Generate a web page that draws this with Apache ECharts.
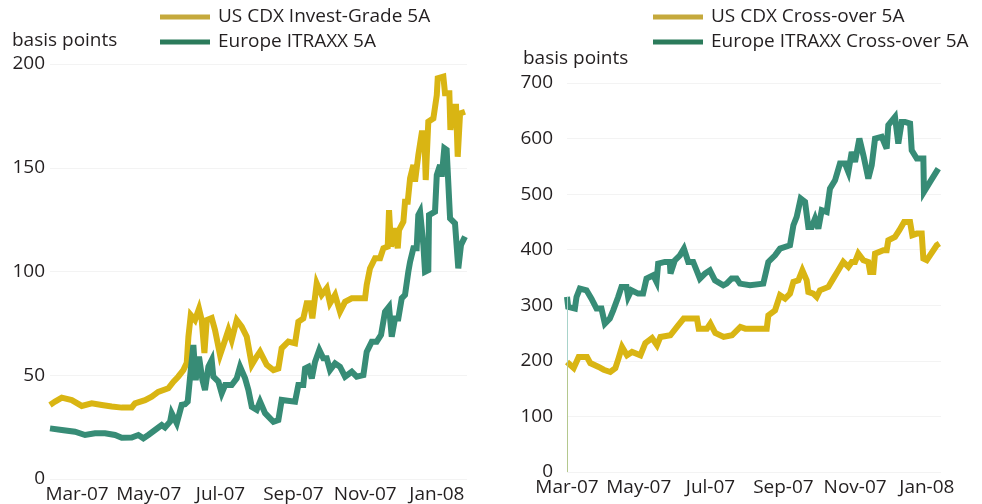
<!DOCTYPE html>
<html><head><meta charset="utf-8">
<script src="https://cdn.jsdelivr.net/npm/echarts@6/dist/echarts.min.js"></script>
<style>html,body{margin:0;padding:0;background:#fff}#c{width:982px;height:504px}</style>
</head><body><div id="c"></div><script>
// x positions are days since 1 Mar 2007
const tickDays = [0, 61, 122, 184, 245, 306];
const tickLabels = ['Mar-07', 'May-07', 'Jul-07', 'Sep-07', 'Nov-07', 'Jan-08'];

const igUsDays = [-23,-18.7,-13,-4.5,4,12.5,21,29.5,38,46.5,49.3,57.8,63.5,69,77.6,82,86,90.4,93.3,94.7,96.7,100.3,103.7,106,108.3,110.3,114.5,117.3,121.6,125.9,128.7,131.5,135.8,140,144.3,148.6,152.8,155.6,161.3,167,171.2,174,179.7,185.4,188.2,192.4,195.3,198.1,200.1,203.8,208,212.3,215.1,219.4,223.6,227.9,233.6,244.9,246.3,249.1,253.4,257.7,260.5,264.2,265.3,267,269.8,272.7,273.8,277.5,278.9,281.2,283.2,286,287.4,290.2,293.1,295.3,296.5,298.2,298.7,303,305.9,306.7,311.5,312.9,316.6,317.5,320,322.3,323.7,325.7,329.9];
const igUsValues = [35.7,37.3,39.2,38,35.2,36.5,35.7,34.9,34.4,34.5,36.5,38,39.7,42,43.7,46.9,49.3,52.5,56,68.6,79,76.6,82,76.6,60.7,76.6,77.6,71.8,59.8,67,71.8,67,76.6,73.4,68.6,55,59,61.4,55,52.5,53.3,63,66.2,65.4,75.8,77.4,84.7,84.7,77.4,94.3,88.7,91.9,84.7,88.7,80.6,85.4,87.1,87.1,93.5,101.5,106.4,106.4,111.2,112,129.6,112,120.8,111.2,120,124,133.6,133.6,144.9,151.3,143.3,156.1,166.6,166.6,144.1,144.1,172.2,173.8,185,193.1,193.9,185.9,185.9,168.2,179.4,179.4,155.3,176.2,177];

const igEuDays = [-23,-13,-1.7,6.8,15.3,23.8,32.3,38,46.5,52.1,56.4,60.6,66.3,72,74.8,79.1,80.5,84.8,89,91.8,94.1,96.7,98.9,100.9,103.7,106.6,108.8,111.7,114.5,115.9,120.2,123,125.9,131.5,135.8,138.6,142.9,145.7,148.6,152.8,155.6,159.9,167,171.2,174,185.4,188.2,192.4,193.9,196.7,199.6,202.4,206,209.4,212.3,215.1,219.4,223.6,227.9,233.6,237.8,243.5,246.3,250.6,254.8,258.5,261.9,265.3,267.6,270.4,273.2,276.1,278.9,281.7,283.2,286,288.8,290.2,291.7,294.5,295.9,298.7,299.3,304.4,305.9,308.7,310.1,312.3,314.3,317.2,321.4,324.2,326.5,329.9];
const igEuValues = [24.4,23.6,22.8,21.2,22,22,21.2,19.9,20,21.2,19.6,21.2,23.6,26,24.8,27.6,31.7,26.8,35.7,36,37.3,52.5,64.6,47.7,58.9,47.7,42.9,54.1,57.3,49.3,46.9,41.3,45.3,45.3,48.5,54.1,48.5,42.9,34.8,33.3,37.3,31.7,27.6,28.4,38.1,37.3,45.3,45.3,53.3,54.1,48.5,56.5,62.2,58.2,58.2,52.5,55.7,54.1,49.3,51.7,49.3,50.1,61.3,66.2,66.2,69.4,80.6,83,68.6,77.4,77.4,87.1,88.7,99.9,104.7,111.2,111.2,127.2,128.8,112.8,99.9,100.7,127.2,128.8,146.5,151.3,145.7,159.4,158.6,125.6,123.2,101.5,112.8,116.8];

const xoUsDays = [0,5.7,9.9,17,19.8,26.9,31.2,36.8,41.1,43.9,46.8,51,55.3,62.4,66.6,72.3,76.5,79.4,87.9,93.5,99.2,110.5,112,119,121.9,126.1,133.2,140.3,147.4,151.6,169.8,171.2,176.9,181.1,185.4,189.6,192.5,196.7,200.1,203.8,205.2,209.4,212.3,215.1,222.2,226.4,230.7,234.9,239.2,242.1,244.9,247.7,252,256.2,257.7,260.5,261.9,269,271.8,273.2,278.9,282.6,286.6,291.7,293.6,297.4,301.6,303,305.9,314.4,316.6];
const xoUsValues = [198,187,207,207,196,189,184,180,187,205,225,210,216,210,232,241,228,243,246,261,276,276,258,258,267,250,243,246,261,258,258,282,291,318,312,321,342,345,363,345,324,321,315,327,333,348,363,378,369,378,378,393,381,378,360,360,393,399,399,417,423,435,450,450,426,429,429,384,381,408,411];

const xoEuDays = [0,1,6.7,8.1,10.9,16.6,20.8,25.1,29.3,32.2,36.4,39.3,43.5,46.3,50.6,52,54.8,60.5,64.7,67.6,73.3,76.1,77.5,83.2,87.4,88,91.7,96,99.4,103.1,107.3,110.2,113,117.3,121.5,125.8,132.9,135.7,139.9,144.2,147,155.6,166.9,171.2,176.9,181.1,189.6,192.5,195.3,198.7,202.4,205.2,208.1,210.9,213.7,216.6,220.8,223.6,227.9,232.1,236.4,239.2,242.1,244.9,248.6,252,256.2,259.1,261.9,267.6,271.8,273.2,278.9,281.7,284.6,287.4,291.7,293.1,297.4,303,303.5,308.7,315.7];
const xoEuValues = [315,297,294,315,330,327,312,294,294,267,276,291,315,333,333,315,327,321,321,348,354,342,375,378,378,357,381,390,402,378,378,363,348,357,363,345,336,339,348,348,339,336,339,378,390,402,408,444,459,492,486,441,441,456,438,471,468,510,525,555,555,540,576,558,600,570,528,552,600,603,582,624,639,591,630,630,627,579,564,564,504,522,546];

const YEL = '#d9b513', GRN = '#378c76';
const YEL_L = '#c5a93c', GRN_L = '#2b7b5b';
const TXT = '#231f20';
const FONT = 'Open Sans';
const FS = 19;
const zip = (a, b) => a.map((d, i) => [d, b[i]]);

const chart = echarts.init(document.getElementById('c'), null, {renderer: 'canvas'});
const xAxisBase = {
  type: 'value', axisLine: {show: false}, axisTick: {show: false}, splitLine: {show: false},
  axisLabel: {customValues: tickDays, formatter: v => tickLabels[tickDays.indexOf(v)] || '',
    color: TXT, fontFamily: FONT, fontSize: FS, margin: 6}
};
const yAxisBase = {
  type: 'value', axisLine: {show: false}, axisTick: {show: false},
  splitLine: {show: true, lineStyle: {color: '#f3f3f3', width: 1}},
  axisLabel: {color: TXT, fontFamily: FONT, fontSize: FS}
};
const lineSeries = (name, xi, data, color, z) => ({
  type: 'line', name, xAxisIndex: xi, yAxisIndex: xi, data, symbol: 'none', showSymbol: false,
  lineStyle: {width: 6, color, join: 'miter', miterLimit: 4}, itemStyle: {color}, z, animation: false
});
const legendText = {color: TXT, fontFamily: FONT, fontSize: FS, lineHeight: 20, padding: [0, 0, 0, 3]};

chart.setOption({
  animation: false,
  grid: [
    {left: 50, right: 515, top: 64, bottom: 25},
    {left: 567, right: 41, top: 83, bottom: 32}
  ],
  xAxis: [
    Object.assign({}, xAxisBase, {gridIndex: 0, min: -23, max: 331.6}),
    Object.assign({}, xAxisBase, {gridIndex: 1, min: 0, max: 318})
  ],
  yAxis: [
    Object.assign({}, yAxisBase, {gridIndex: 0, min: 0, max: 200, interval: 50, axisLabel: Object.assign({}, yAxisBase.axisLabel, {margin: 5})}),
    Object.assign({}, yAxisBase, {gridIndex: 1, min: 0, max: 700, interval: 100, axisLabel: Object.assign({}, yAxisBase.axisLabel, {margin: 14})})
  ],
  legend: [
    {left: 155, top: 2, orient: 'vertical', itemGap: 5, itemWidth: 50, itemHeight: 5, icon: 'rect',
     textStyle: legendText,
     data: [{name: 'US CDX Invest-Grade 5A', itemStyle: {color: YEL_L}},
            {name: 'Europe ITRAXX 5A', itemStyle: {color: GRN_L}}]},
    {left: 648, top: 2, orient: 'vertical', itemGap: 5, itemWidth: 50, itemHeight: 5, icon: 'rect',
     textStyle: legendText,
     data: [{name: 'US CDX Cross-over 5A', itemStyle: {color: YEL_L}},
            {name: 'Europe ITRAXX Cross-over 5A', itemStyle: {color: GRN_L}}]}
  ],
  graphic: [
    {type: 'text', left: 12, top: 31, style: {text: 'basis points', fill: TXT, font: FS + 'px "' + FONT + '"'}},
    {type: 'text', left: 523, top: 49, style: {text: 'basis points', fill: TXT, font: FS + 'px "' + FONT + '"'}}
  ],
  series: [
    lineSeries('US CDX Invest-Grade 5A', 0, zip(igUsDays, igUsValues), YEL, 2),
    lineSeries('Europe ITRAXX 5A', 0, zip(igEuDays, igEuValues), GRN, 3),
    Object.assign(lineSeries('US CDX Cross-over 5A', 1, zip(xoUsDays, xoUsValues), YEL, 2), {
      markLine: {silent: true, symbol: 'none', label: {show: false}, lineStyle: {color: '#b4c88e', width: 1, type: 'solid'},
        data: [[{coord: [xoUsDays[0], 0]}, {coord: [xoUsDays[0], xoUsValues[0]]}]]}
    }),
    Object.assign(lineSeries('Europe ITRAXX Cross-over 5A', 1, zip(xoEuDays, xoEuValues), GRN, 3), {
      markLine: {silent: true, symbol: 'none', label: {show: false}, lineStyle: {color: '#a8d3ca', width: 1, type: 'solid'},
        data: [[{coord: [xoEuDays[0], xoUsValues[0]]}, {coord: [xoEuDays[0], xoEuValues[0]]}]]}
    })
  ]
});
</script></body></html>
